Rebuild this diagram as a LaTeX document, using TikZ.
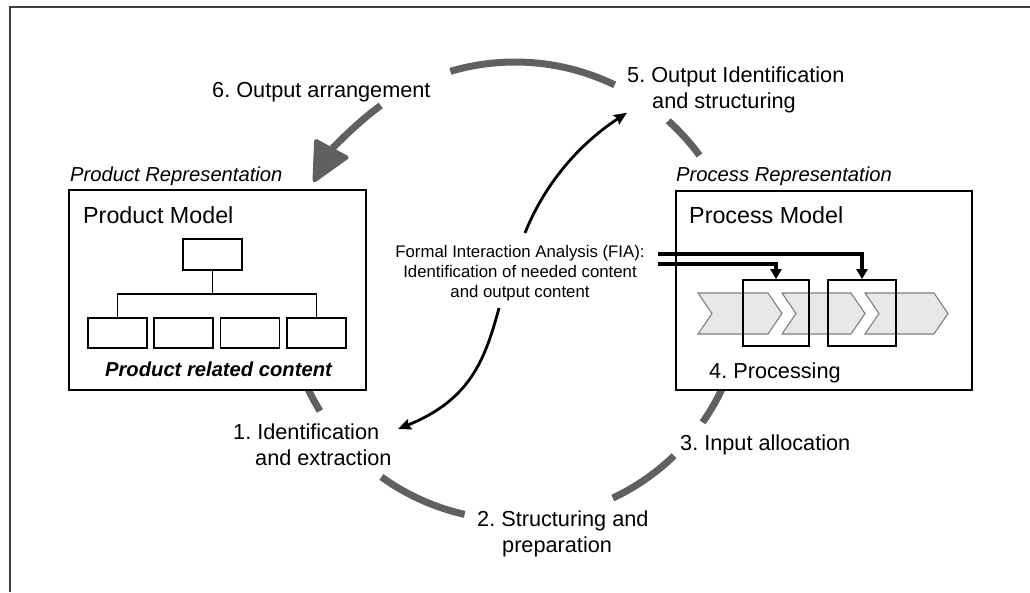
\documentclass[tikz,border=0pt]{standalone}
\usepackage{fontspec}
\setmainfont{Liberation Sans}
\usetikzlibrary{arrows.meta}
\definecolor{cyclegray}{RGB}{96,96,96}
\definecolor{chevfill}{RGB}{232,232,232}
\definecolor{chevline}{RGB}{128,128,128}
\definecolor{framegray}{RGB}{64,64,64}
\frenchspacing

\begin{document}
\begin{tikzpicture}[x=1pt,y=-1pt,
  lbl/.style={inner sep=0pt, font=\fontsize{21.7}{26}\selectfont, align=left, anchor=base west},
  model/.style={inner sep=0pt, font=\fontsize{23.3}{28}\selectfont, anchor=base west},
  rep/.style={inner sep=0pt, font=\fontsize{20.2}{24}\selectfont\itshape, anchor=base west},
  panel/.style={draw=black, line width=1.6pt, fill=white, inner sep=0pt},
  leaf/.style={draw=black, line width=1.6pt, minimum width=59pt, minimum height=30pt, inner sep=0pt},
  cyc/.style={draw=cyclegray, line width=7pt},
  fiaarrow/.style={draw=black, line width=2.8pt, -{Stealth[length=13pt,width=11pt,inset=2pt]}},
  feed/.style={draw=black, line width=3.2pt, -{Triangle[length=10pt,width=11pt]}},
  chev/.style={fill=chevfill, draw=chevline, line width=1.1pt},
  bracket/.style={draw=black, line width=1.8pt, minimum height=66pt, inner sep=0pt},
]
\useasboundingbox (0,0) rectangle (1030,592);

% outer frame (top and left edges)
\draw[line width=2pt, framegray] (10,592) -- (10,7) -- (1030,7);

% the cycle: one circle, interrupted at the labels
\coordinate (cc) at (515,291);
\draw[cyc] (cc) ++(160:229) arc[start angle=160, end angle=148.4, radius=229];
\draw[cyc] (cc) ++(125.7:229) arc[start angle=125.7, end angle=102.7, radius=229];
\draw[cyc] (cc) ++(64.7:229) arc[start angle=64.7, end angle=46, radius=229];
\draw[cyc] (cc) ++(35:229) arc[start angle=35, end angle=20, radius=229];
\draw[cyc] (cc) ++(-36.3:229) arc[start angle=-36.3, end angle=-48, radius=229];
\draw[cyc] (cc) ++(-64.2:229) arc[start angle=-64.2, end angle=-106.4, radius=229];
\draw[cyc, -{Triangle[length=42pt,width=40pt,line width=4pt,round]}]
  (cc) ++(-125.9:229) arc[start angle=-125.9, end angle=-151.6, radius=229];

% representation panels
\node[panel, minimum width=297pt, minimum height=200pt] (prod) at (217.5,290) {};
\node[panel, minimum width=296pt, minimum height=199pt] (proc) at (824,290.5) {};

\node[rep] (prodrep) at (70,181) {Product Representation};
\node[rep] (procrep) at (676,181) {Process Representation};
\node[model] (prodmodel) at (83,223) {Product Model};
\node[model] (procmodel) at (689,223) {Process Model};

% product structure tree
\node[leaf, minimum height=31pt] (t0) at (212.5,254.5) {};
\node[leaf] (t1) at (117.5,333) {};
\node[leaf] (t2) at (183.5,333) {};
\node[leaf] (t3) at (250,333) {};
\node[leaf] (t4) at (316.5,333) {};
\coordinate (bus) at (212.5,294);
\draw[line width=1.6pt] (t0.south) -- (bus);
\draw[line width=1.6pt] (t1.north) |- (bus) -| (t4.north);
\node[inner sep=0pt, font=\fontsize{20.2}{24}\selectfont\bfseries\itshape, anchor=base]
  (prc) at (218.5,376) {Product related content};

% process chain
\draw[chev] (698,293) -- (768,293) -- (782,313.5) -- (768,334) -- (698,334) -- (712,313.5) -- cycle;
\draw[chev] (782,293) -- (851,293) -- (865,313.5) -- (851,334) -- (782,334) -- (796,313.5) -- cycle;
\draw[chev] (865,293) -- (934,293) -- (948,313.5) -- (934,334) -- (865,334) -- (879,313.5) -- cycle;
\node[bracket, minimum width=66pt] (b1) at (776,313) {};
\node[bracket, minimum width=68pt] (b2) at (862,313) {};
\node[lbl] (l4) at (709,378) {4. Processing};

% cycle step labels (base = baseline of the last line)
\node[lbl] (l6) at (212,97) {6. Output arrangement};
\node[lbl] (l5) at (627,108) {5. Output Identification\\\hspace*{25pt}and structuring};
\node[lbl] (l1) at (233,465.7) {1. Identification\\\hspace*{22pt}and extraction};
\node[lbl] (l2) at (477,552) {2. Structuring and\\\hspace*{25pt}preparation};
\node[lbl] (l3) at (680,450) {3. Input allocation};

% formal interaction analysis
\node[inner sep=0pt, font=\fontsize{16.8}{20}\selectfont, align=center, anchor=base]
  (fia) at (520,297) {Formal Interaction Analysis (FIA):\\Identification of needed content\\and output content};
\coordinate (fiaup) at (525,233);
\coordinate (fiadown) at (499,308);
\coordinate (fiar1) at (658,254);
\coordinate (fiar2) at (658,264);
\coordinate (l1in) at (398,429);
\draw[fiaarrow] (fiaup) .. controls (540,195) and (570,150) .. (l5.south west);
\draw[fiaarrow] (fiadown) .. controls (485,360) and (470,400) .. (l1in);
\draw[feed] (fiar1) -| (b2.north);
\draw[feed] (fiar2) -| (b1.north);
\end{tikzpicture}
\end{document}
